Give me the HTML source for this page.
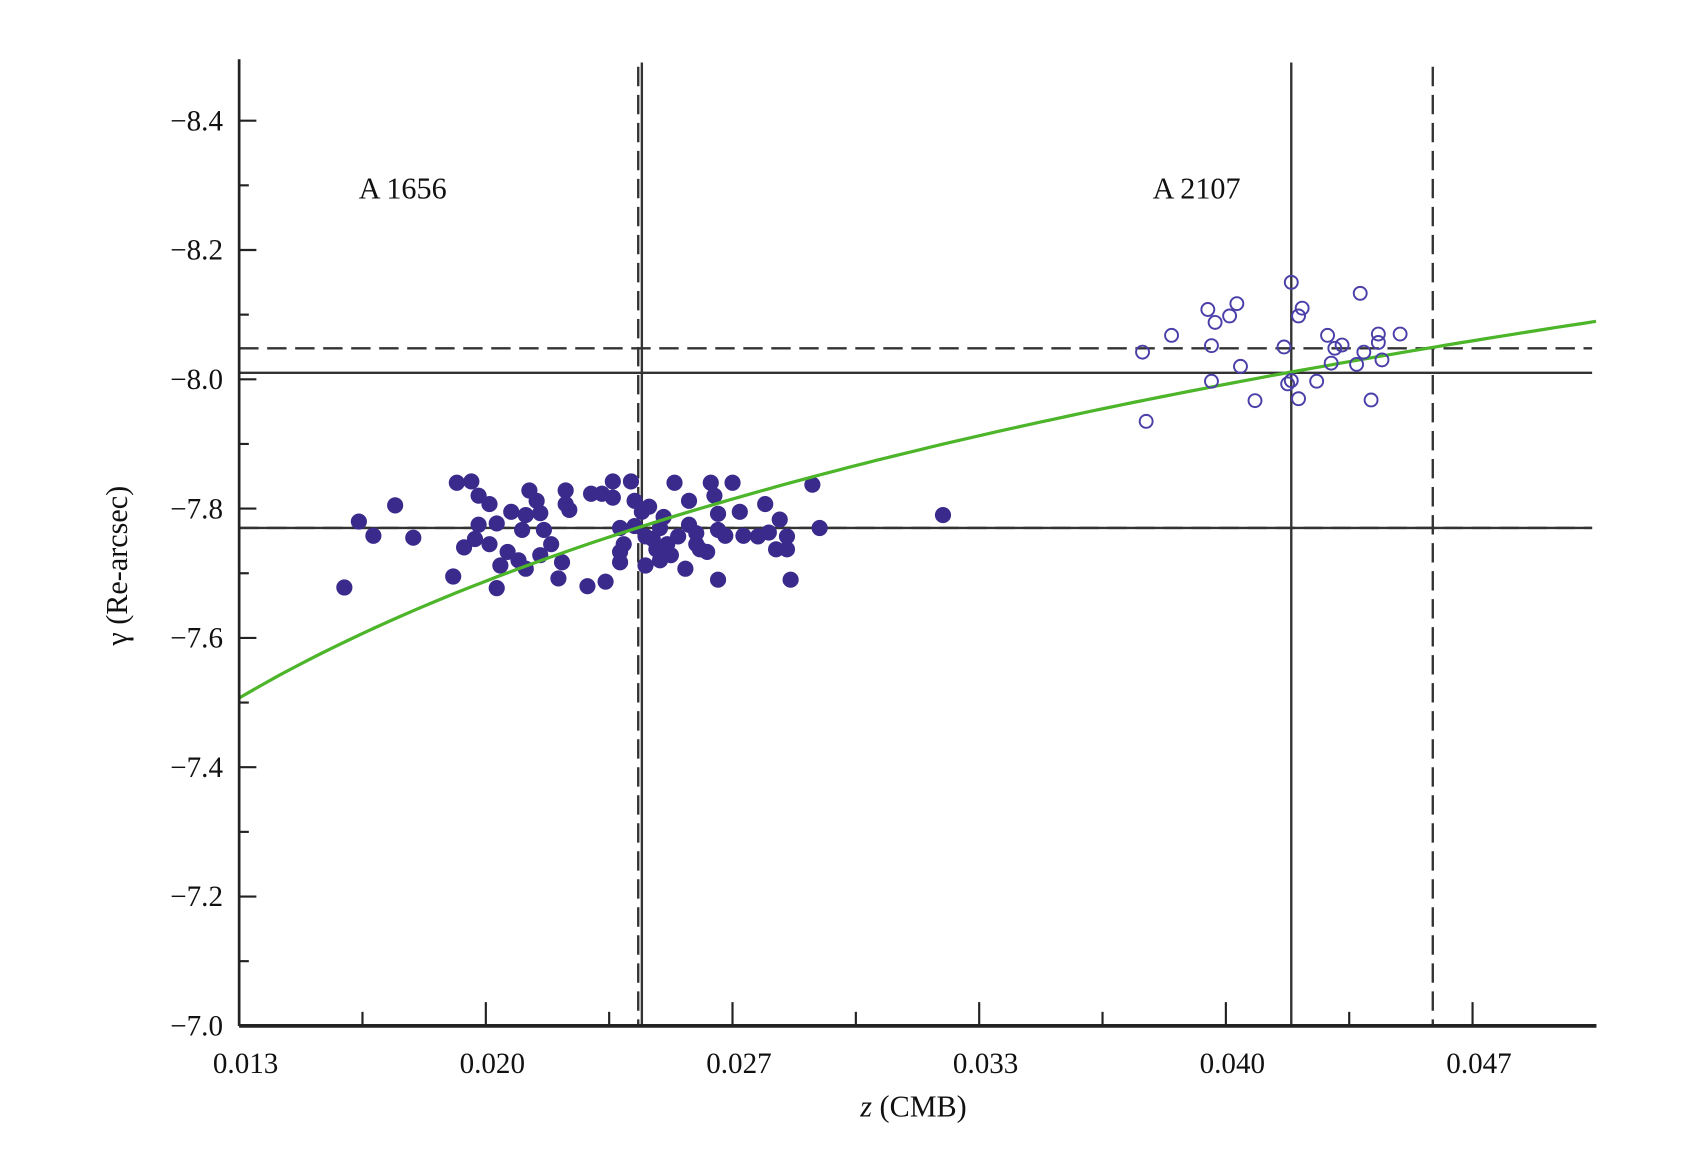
<!DOCTYPE html>
<html><head><meta charset="utf-8"><style>
html,body{margin:0;padding:0;background:#fff;}
svg{display:block;}
text{font-family:"Liberation Serif",serif;fill:#111;}
</style></head><body>
<svg id="chart" width="1688" height="1170" viewBox="0 0 1567 1085.8" preserveAspectRatio="none" xmlns="http://www.w3.org/2000/svg"></svg>
<script>
const xTicks = [0.013, 0.020, 0.027, 0.033, 0.040, 0.047];
const yTicks = [-8.4, -8.2, -8.0, -7.8, -7.6, -7.4, -7.2, -7.0];
const filledZ = [0.0159,0.0163,0.0167,0.0173,0.0178,0.0189,0.0190,0.0194,0.0196,0.0199,0.0192,0.0195,0.0196,0.0201,0.0201,0.0204,0.0205,0.0207,0.0208,0.0209,0.0210,0.0212,0.0213,0.0214,0.0216,0.0218,0.0219,0.0220,0.0220,0.0221,0.0226,0.0227,0.0230,0.0231,0.0233,0.0233,0.0235,0.0235,0.0235,0.0238,0.0239,0.0239,0.0241,0.0242,0.0242,0.0243,0.0244,0.0245,0.0246,0.0247,0.0248,0.0249,0.0250,0.0251,0.0253,0.0254,0.0254,0.0256,0.0257,0.0259,0.0260,0.0261,0.0262,0.0262,0.0262,0.0264,0.0266,0.0268,0.0273,0.0275,0.0276,0.0278,0.0279,0.0281,0.0282,0.0288,0.0290,0.0324,0.0199,0.0202,0.0209,0.0213,0.0236,0.0246,0.0256,0.0269,0.0281];
const filledG = [-7.678,-7.780,-7.758,-7.805,-7.755,-7.695,-7.840,-7.842,-7.820,-7.807,-7.740,-7.753,-7.775,-7.777,-7.677,-7.733,-7.795,-7.720,-7.767,-7.790,-7.828,-7.812,-7.793,-7.767,-7.745,-7.692,-7.717,-7.807,-7.828,-7.798,-7.680,-7.823,-7.823,-7.687,-7.842,-7.817,-7.770,-7.733,-7.717,-7.842,-7.812,-7.773,-7.795,-7.757,-7.712,-7.803,-7.753,-7.737,-7.770,-7.787,-7.745,-7.728,-7.840,-7.757,-7.707,-7.812,-7.775,-7.762,-7.737,-7.733,-7.840,-7.820,-7.690,-7.792,-7.767,-7.758,-7.840,-7.795,-7.757,-7.807,-7.763,-7.737,-7.783,-7.737,-7.690,-7.837,-7.770,-7.790,-7.745,-7.712,-7.707,-7.728,-7.745,-7.720,-7.745,-7.758,-7.757];
const openZ = [0.0379,0.0380,0.0387,0.0397,0.0398,0.0398,0.0399,0.0403,0.0405,0.0406,0.0410,0.0418,0.0419,0.0420,0.0420,0.0422,0.0423,0.0422,0.0427,0.0430,0.0431,0.0432,0.0434,0.0438,0.0439,0.0440,0.0442,0.0444,0.0444,0.0445,0.0450];
const openG = [-8.042,-7.935,-8.068,-8.108,-8.052,-7.997,-8.088,-8.098,-8.117,-8.020,-7.967,-8.050,-7.993,-8.150,-7.998,-8.098,-8.110,-7.970,-7.997,-8.068,-8.025,-8.048,-8.053,-8.023,-8.133,-8.042,-7.968,-8.070,-8.057,-8.030,-8.070];
const fitZ0 = 0.013, fitG0 = -7.507, fitSlope = -0.99;
const vSolid = [0.0241, 0.0420];
const vDashed = [0.0240, 0.0459];
const hSolid = [-8.010, -7.770];
const hDashed = [-8.048, -7.770];

const NS = "http://www.w3.org/2000/svg";
const svg = document.getElementById('chart');
const X0 = 222, Y0 = 952, XMAX = 1482, YTOP = 55;
const xs = z => X0 + (z - 0.013) * 33680;
const ys = g => Y0 + (g + 7.0) * 600;
function mk(tag, attrs, parent){ const e=document.createElementNS(NS,tag); for(const k in attrs) e.setAttribute(k,attrs[k]); (parent||svg).appendChild(e); return e; }

const refs = mk('g',{});


vSolid.forEach(z=>{ const l=mk('line',{x1:xs(z),x2:xs(z),y1:58,y2:Y0,stroke:'#333','stroke-width':2.2},refs);

 });
vDashed.forEach(z=>{ const l=mk('line',{x1:xs(z),x2:xs(z),y1:62,y2:Y0,stroke:'#333','stroke-width':2.2,'stroke-dasharray':'18,8'},refs);

 });
hDashed.forEach(g=>{ const l=mk('line',{x1:X0,x2:1478,y1:ys(g),y2:ys(g),stroke:'#333','stroke-width':2.2,'stroke-dasharray':'18,8'},refs);

 });
hSolid.forEach(g=>{ const l=mk('line',{x1:X0,x2:1478,y1:ys(g),y2:ys(g),stroke:'#333','stroke-width':2.2},refs);

 });

const fg = mk('g',{fill:'#3a2a8c'});


filledZ.forEach((z,i)=>{ const c=mk('circle',{cx:xs(z),cy:ys(filledG[i]),r:7.5},fg);

 });

let d='';
for(let i=0;i<=100;i++){ const z=0.013+(0.0504-0.013)*i/100; const g=fitG0+fitSlope*Math.log10(z/fitZ0); d+=(i?'L':'M')+xs(z).toFixed(1)+','+ys(g).toFixed(1); }
const fit = mk('path',{d:d,fill:'none',stroke:'#4cb52a','stroke-width':3});



const og = mk('g',{fill:'none',stroke:'#4a3fa8','stroke-width':1.8});


openZ.forEach((z,i)=>{ const c=mk('circle',{cx:xs(z),cy:ys(openG[i]),r:6},og);

 });

const ya = mk('line',{x1:X0,x2:X0,y1:YTOP,y2:Y0,stroke:'#222','stroke-width':2.5});


const xa = mk('line',{x1:X0,x2:XMAX,y1:Y0,y2:Y0,stroke:'#222','stroke-width':3.5});



yTicks.forEach(g=>{ const y=ys(g);
 const t=mk('line',{x1:X0,x2:X0+16,y1:y,y2:y,stroke:'#222','stroke-width':2});
 
 
 if(g>-8.45 && g<-7.0){ const m=mk('line',{x1:X0,x2:X0+9,y1:ys(g+0.1),y2:ys(g+0.1),stroke:'#222','stroke-width':2});
 
  }
 const tx=mk('text',{x:207,y:y+9,'text-anchor':'end','font-size':27});
 tx.textContent='\u2212'+Math.abs(g).toFixed(1);
 
 
});
const ystep = 229;
xTicks.forEach((z,i)=>{ const x=X0+i*ystep;
 const t=mk('line',{x1:x,x2:x,y1:Y0,y2:Y0-22,stroke:'#222','stroke-width':2});
 
 
 if(i<xTicks.length-1){ const m=mk('line',{x1:x+ystep/2,x2:x+ystep/2,y1:Y0,y2:Y0-13,stroke:'#222','stroke-width':2});
 
  }
 const tx=mk('text',{x:x+6,y:996,'text-anchor':'middle','font-size':27});
 tx.textContent=z.toFixed(3);
 
 
});
const xt=mk('text',{x:848,y:1036,'text-anchor':'middle','font-size':28});
xt.innerHTML='<tspan font-style="italic">z</tspan> (CMB)';


const yt=mk('text',{x:0,y:0,'text-anchor':'middle','font-size':28,transform:'translate(118,525) rotate(-90)'});
yt.textContent='\u03B3 (Re-arcsec)';


const l1=mk('text',{x:333,y:184,'font-size':28}); l1.textContent='A 1656';


const l2=mk('text',{x:1070,y:184,'font-size':28}); l2.textContent='A 2107';


</script>
</body></html>
